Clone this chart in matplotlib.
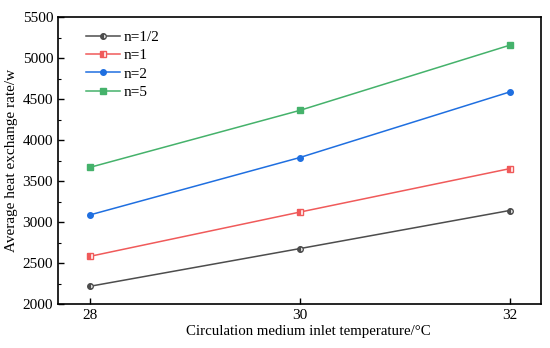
import matplotlib.pyplot as plt
from matplotlib.ticker import MultipleLocator

plt.rcParams['font.family'] = ['Liberation Serif', 'DejaVu Serif']

temps = [28, 30, 32]
labels = ['n=1/2', 'n=1', 'n=2', 'n=5']
rate_half = [2215, 2675, 3140]
rate_1 = [2580, 3120, 3650]
rate_2 = [3085, 3785, 4585]
rate_5 = [3665, 4360, 5155]
series = [rate_half, rate_1, rate_2, rate_5]

colors = ['#4d4d4d', '#f05a5a', '#1f6fe0', '#45b26b']
markers = ['o', 's', 'o', 's']
fills = ['left', 'left', 'full', 'full']

fig = plt.figure(figsize=(5.5, 3.48), dpi=100)
ax = fig.add_axes([58/550, 1 - 304/348, (541-58)/550, (304-17)/348])

for vals, lab, c, m, fs in zip(series, labels, colors, markers, fills):
    ax.plot(temps, vals, color=c, marker=m, markersize=4, fillstyle=fs,
            markerfacecoloralt='white', markeredgecolor=c, linewidth=1.1, label=lab)

ax.set_xlim(27.7, 32.3)
ax.set_ylim(2000, 5500)
ax.set_xticks(temps)
ax.yaxis.set_major_locator(MultipleLocator(500))
ax.yaxis.set_minor_locator(MultipleLocator(250))
ax.tick_params(direction='in', labelsize=11, length=4, width=1)
ax.tick_params(which='minor', direction='in', length=2, width=0.8)
for s in ax.spines.values():
    s.set_linewidth(1.2)

ax.set_xlabel('Circulation medium inlet temperature/°C', fontsize=10.7, labelpad=0)
ax.xaxis.set_label_coords(0.518, -0.072)
ax.set_ylabel('Average heat exchange rate/w', fontsize=11, labelpad=3)
ax.legend(loc='upper left', frameon=False, fontsize=11, handlelength=2.2,
          handletextpad=0.2, labelspacing=0.3, bbox_to_anchor=(0.04, 0.985),
          borderaxespad=0.2)

fig.savefig('out.png', dpi=100)
